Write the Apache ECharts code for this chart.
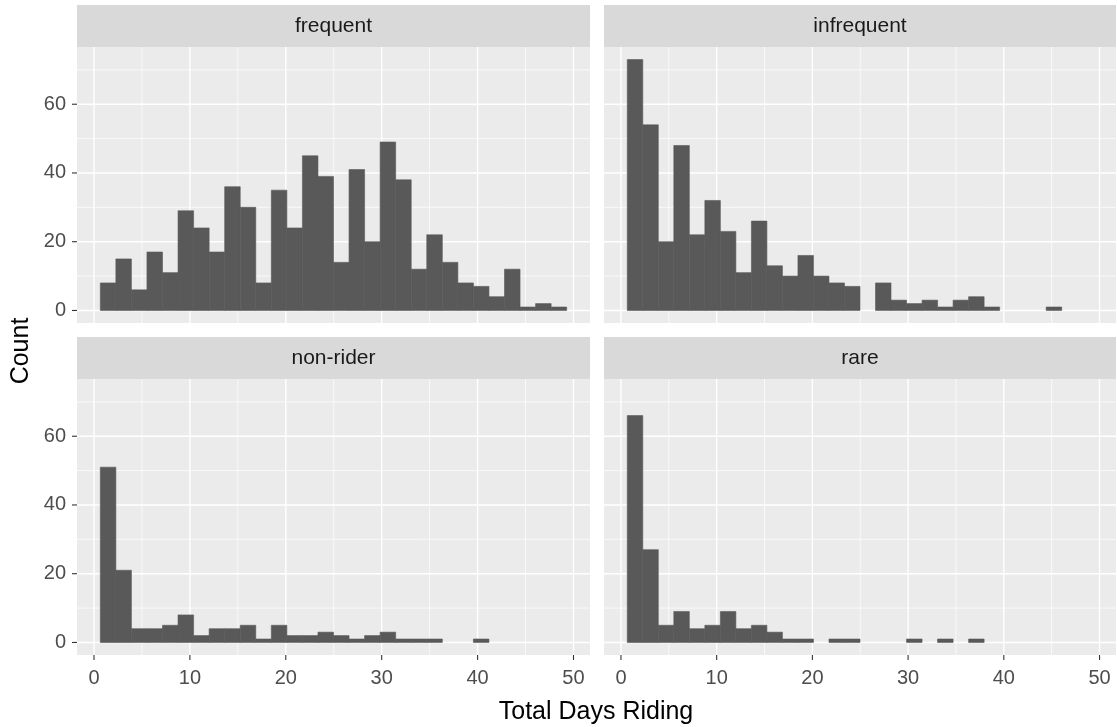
<!DOCTYPE html>
<html lang="en">
<head>
<meta charset="UTF-8">
<title>Total Days Riding</title>
<style>
    html,body{width:100%;height:100%;margin:0;padding:0;background:#fff;}
    #chart{width:1117px;height:727px;}
</style>
</head>
<body>
<div id="chart"></div>
<script src="https://cdn.jsdelivr.net/npm/echarts@6.0.0/dist/echarts.min.js"></script>
<script>
// histogram counts per facet, 30 bins shared by all facets
var binStart = 0.66;
var binWidth = 1.621;
var frequent   = [8,15,6,17,11,29,24,17,36,30,8,35,24,45,39,14,41,20,49,38,12,22,14,8,7,4,12,1,2,1];
var infrequent = [73,54,20,48,22,32,23,11,26,13,10,16,10,8,7,0,8,3,2,3,1,3,4,1,0,0,0,1,0,0];
var nonRider   = [51,21,4,4,5,8,2,4,4,5,1,5,2,2,3,2,1,2,3,1,1,1,0,0,1,0,0,0,0,0];
var rare       = [66,27,5,9,4,5,9,4,5,3,1,1,0,1,1,0,0,0,1,0,1,0,1,0,0,0,0,0,0,0];

var xBreaks = [0,10,20,30,40,50];
var xMinor  = [5,15,25,35,45];
var yBreaks = [0,20,40,60];
var yMinor  = [10,30,50,70];

var xTitle = 'Total Days Riding';
var yTitle = 'Count';

var font = '"Liberation Sans", Arial, sans-serif';

// panel layout (facet_wrap 2x2)
var panels = [
    {name: 'frequent',   counts: frequent,   left: 77,  top: 47,  width: 513, height: 276, xLab: false, yLab: true},
    {name: 'infrequent', counts: infrequent, left: 604, top: 47,  width: 512, height: 276, xLab: false, yLab: false},
    {name: 'non-rider',  counts: nonRider,   left: 77,  top: 379, width: 513, height: 276, xLab: true,  yLab: true},
    {name: 'rare',       counts: rare,       left: 604, top: 379, width: 512, height: 276, xLab: true,  yLab: false}
];
var stripH = 42;
var tickLen = 5;

// ggplot style 5% expansion
var binEnd = binStart + binWidth * frequent.length;
var xPad = (binEnd - binStart) * 0.05;
var yMax = Math.max.apply(null, frequent.concat(infrequent, nonRider, rare));
var yPad = yMax * 0.05;

function binData(counts) {
    var res = [];
    counts.forEach(function (c, i) {
        if (c > 0) {
            res.push([binStart + i * binWidth, binStart + (i + 1) * binWidth, c]);
        }
    });
    return res;
}

// kind: 0 x major, 1 x minor, 2 y major, 3 y minor, 4 x tick, 5 y tick
function gridData(p) {
    var res = [];
    xBreaks.forEach(function (v) { res.push([v, 0, 0]); });
    xMinor.forEach(function (v) { res.push([v, 0, 1]); });
    yBreaks.forEach(function (v) { res.push([0, v, 2]); });
    yMinor.forEach(function (v) { res.push([0, v, 3]); });
    if (p.xLab) xBreaks.forEach(function (v) { res.push([v, 0, 4]); });
    if (p.yLab) yBreaks.forEach(function (v) { res.push([0, v, 5]); });
    return res;
}

function renderGrid(params, api) {
    var cs = params.coordSys;
    var kind = api.value(2);
    var pt = api.coord([api.value(0), api.value(1)]);
    var bottom = cs.y + cs.height;
    if (kind === 4) {
        return {type: 'line', shape: {x1: pt[0], y1: bottom, x2: pt[0], y2: bottom + tickLen},
            style: {stroke: '#333333', lineWidth: 1.1}};
    }
    if (kind === 5) {
        return {type: 'line', shape: {x1: cs.x - tickLen, y1: pt[1], x2: cs.x, y2: pt[1]},
            style: {stroke: '#333333', lineWidth: 1.1}};
    }
    var shape = kind < 2
        ? {x1: pt[0], y1: cs.y, x2: pt[0], y2: bottom}
        : {x1: cs.x, y1: pt[1], x2: cs.x + cs.width, y2: pt[1]};
    return {type: 'line', shape: shape, style: {stroke: '#FFFFFF', lineWidth: kind % 2 === 0 ? 1.4 : 0.7}};
}

function renderBar(params, api) {
    var a = api.coord([api.value(0), api.value(2)]);
    var b = api.coord([api.value(1), 0]);
    return {
        type: 'rect',
        shape: {x: a[0], y: a[1], width: b[0] - a[0], height: b[1] - a[1]},
        style: {fill: '#595959', stroke: '#595959', lineWidth: 0.6}
    };
}

var grids = [], xAxes = [], yAxes = [], series = [], graphics = [];

panels.forEach(function (p, i) {
    grids.push({
        left: p.left, top: p.top, width: p.width, height: p.height,
        show: true, backgroundColor: '#EBEBEB', borderWidth: 0
    });
    xAxes.push({
        type: 'value', gridIndex: i,
        min: binStart - xPad, max: binEnd + xPad,
        axisLine: {show: false},
        splitLine: {show: false},
        axisTick: {show: false},
        axisLabel: {show: p.xLab, customValues: xBreaks, margin: 13, color: '#4D4D4D', fontSize: 20, fontFamily: font}
    });
    yAxes.push({
        type: 'value', gridIndex: i,
        min: -yPad, max: yMax + yPad,
        axisLine: {show: false},
        splitLine: {show: false},
        axisTick: {show: false},
        axisLabel: {show: p.yLab, customValues: yBreaks, margin: 11, color: '#4D4D4D', fontSize: 20, fontFamily: font}
    });
    // panel grid lines and axis ticks
    series.push({
        type: 'custom', xAxisIndex: i, yAxisIndex: i, z: 1, silent: true, clip: false,
        data: gridData(p),
        renderItem: renderGrid
    });
    // histogram bars
    series.push({
        type: 'custom', name: p.name, xAxisIndex: i, yAxisIndex: i, z: 2,
        encode: {x: [0, 1], y: 2},
        data: binData(p.counts),
        renderItem: renderBar
    });
    // facet strip
    graphics.push({
        type: 'rect', left: p.left, top: p.top - stripH,
        shape: {width: p.width, height: stripH},
        style: {fill: '#D9D9D9'}
    });
    graphics.push({
        type: 'text', x: p.left + p.width / 2, y: p.top - stripH / 2,
        style: {text: p.name, fill: '#1A1A1A', fontSize: 21, fontFamily: font, align: 'center', verticalAlign: 'middle'}
    });
});

graphics.push({
    type: 'text', x: 596, y: 712,
    style: {text: xTitle, fill: '#000', fontSize: 25, fontFamily: font, align: 'center', verticalAlign: 'middle'}
});
graphics.push({
    type: 'text', x: 21, y: 351, rotation: Math.PI / 2,
    style: {text: yTitle, fill: '#000', fontSize: 25, fontFamily: font, align: 'center', verticalAlign: 'middle'}
});

var myChart = echarts.init(document.getElementById('chart'));
myChart.setOption({
    backgroundColor: '#FFFFFF',
    animation: false,
    grid: grids,
    xAxis: xAxes,
    yAxis: yAxes,
    series: series,
    graphic: graphics
});
</script>
</body>
</html>
